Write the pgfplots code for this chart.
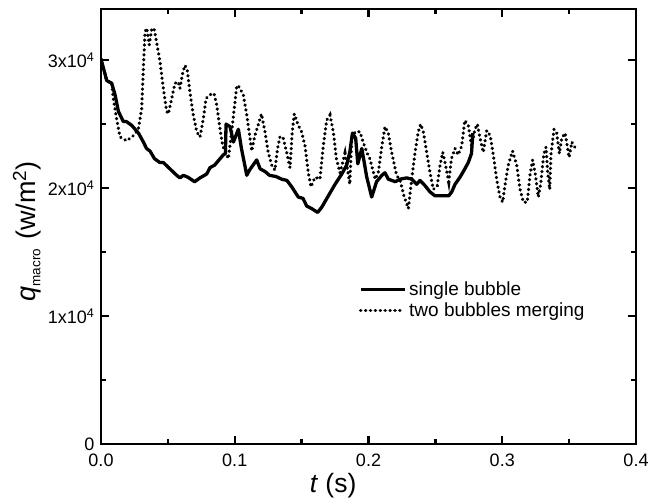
\documentclass[border=0pt]{standalone}
\usepackage{fontspec}
\setmainfont{Liberation Sans}
\usepackage{pgfplots}
\pgfplotsset{compat=1.18}
\begin{document}
\begin{tikzpicture}
\begin{axis}[name=ax,
  scale only axis, width=535pt, height=435pt,
  xmin=0, xmax=0.4, ymin=0, ymax=34000,
  axis line style={line width=2.8pt},
  xtick={0,0.1,0.2,0.3,0.4}, xticklabels={0.0,0.1,0.2,0.3,0.4},
  ytick={0,10000,20000,30000},
  yticklabels={0,1x10\textsuperscript{4},2x10\textsuperscript{4},3x10\textsuperscript{4}},
  minor xtick={0.05,0.15,0.25,0.35}, minor ytick={5000,15000,25000},
  tick align=inside, major tick length=8pt, minor tick length=5pt,
  every tick/.style={line width=2.4pt, black},
  tick label style={font=\fontsize{18}{21}\selectfont},
  xticklabel style={yshift=-6pt},
  yticklabel style={xshift=-3pt},
  scaled ticks=false,
  xlabel={\textit{t} (s)},
  xlabel style={font=\fontsize{26.5}{30}\selectfont, at={(axis cs:0.1735,0)}, anchor=north, inner sep=0pt, yshift=-29pt},
  ylabel={\textit{q}\raisebox{-5pt}{\fontsize{13.5}{15}\selectfont macro}\hspace{9pt}(w/m\textsuperscript{2})},
  ylabel style={font=\fontsize{27}{30}\selectfont, at={(axis description cs:-0.112,0.4885)}, anchor=south, inner sep=0pt},
  legend style={at={(axis description cs:0.4817,0.38)}, anchor=north west, draw=none, fill=none,
    font=\fontsize{19}{22}\selectfont, row sep=0pt, inner sep=0pt, nodes={inner sep=3pt}},
  legend cell align=left,
  legend image code/.code={\draw[#1] (0pt,0pt) -- (44pt,0pt);},
]
\addplot[black, line width=3.3pt, line join=round] coordinates {
(0,30100) (0.0043,28400) (0.008,28200) (0.0105,27300) (0.013,26000) (0.0167,25200)
(0.019,25200) (0.023,24900) (0.028,24300) (0.0317,23600) (0.034,23100) (0.0366,22900)
(0.040,22300) (0.044,22000) (0.0466,22000) (0.0516,21500) (0.0566,21000) (0.059,20800)
(0.0616,21000) (0.065,20850) (0.070,20500) (0.074,20800) (0.079,21100) (0.0815,21600)
(0.085,21800) (0.089,22300) (0.0915,22600) (0.093,22700) (0.0935,25000) (0.0965,24800)
(0.099,23600) (0.1027,24600) (0.105,23100) (0.109,21000) (0.111,21400) (0.1164,22200)
(0.119,21500) (0.1226,21300) (0.126,21000) (0.131,20900) (0.135,20700) (0.139,20600)
(0.1426,20100) (0.1475,19300) (0.151,19200) (0.1538,18600) (0.1575,18400) (0.162,18100)
(0.165,18500) (0.170,19400) (0.175,20300) (0.180,21100) (0.1837,21800) (0.186,22800)
(0.188,24300) (0.1904,23900) (0.192,21900) (0.195,23100) (0.1987,20850) (0.2024,19300)
(0.206,20500) (0.21,21000) (0.2123,21200) (0.2148,20700) (0.22,20500) (0.2236,20700)
(0.2286,20800) (0.2323,20700) (0.236,20300) (0.2385,20600) (0.2422,20200) (0.246,19700)
(0.2497,19400) (0.2547,19400) (0.26,19400) (0.2622,19700) (0.2647,20300) (0.2684,20850)
(0.272,21500) (0.2746,22000) (0.277,22700) (0.278,24300)
};
\addlegendentry{single bubble}
\addplot[black, line width=3.3pt, line cap=round, dash pattern=on 0.3pt off 4.6pt] coordinates {
(0,30100) (0.0043,28400) (0.008,28200) (0.0092,27000) (0.0117,25400) (0.0142,24000)
(0.0192,23700) (0.0242,24100) (0.0279,24600) (0.0304,26200) (0.0317,29400) (0.0329,32200)
(0.0342,32500) (0.0361,31200) (0.0379,32400) (0.0396,32500) (0.0416,31400) (0.0441,29900)
(0.0466,27800) (0.0491,26000) (0.0503,25800) (0.0529,27000) (0.0553,28200) (0.0578,28300)
(0.059,27800) (0.0611,29000) (0.0628,29600) (0.0645,29200) (0.0665,27500) (0.069,25700)
(0.0716,24400) (0.074,24000) (0.0765,25400) (0.0785,27000) (0.0815,27300) (0.0845,27400)
(0.0865,26500) (0.089,24600) (0.091,23300) (0.094,22600) (0.0952,22300) (0.0977,24400)
(0.1015,28000) (0.1027,28000) (0.1064,27300) (0.109,25700) (0.1114,23900) (0.1127,22900)
(0.115,24100) (0.1177,25000) (0.120,25800) (0.1226,24400) (0.125,22800) (0.1276,21800)
(0.130,21400) (0.132,23100) (0.1338,24000) (0.136,24000) (0.1388,22800) (0.1413,21600)
(0.143,24400) (0.1445,25800) (0.1475,24900) (0.150,24400) (0.1525,23300) (0.155,21200)
(0.157,20100) (0.160,20850) (0.1637,20700) (0.1662,23300) (0.1687,25300) (0.1712,25700)
(0.1737,24400) (0.176,22300) (0.1787,21200) (0.1824,22700) (0.185,21000) (0.186,20300)
(0.1875,23900) (0.19,24400) (0.1936,24400) (0.196,23600) (0.1987,22800) (0.201,22300)
(0.205,20700) (0.2073,21200) (0.21,23300) (0.2123,24800) (0.2148,24300) (0.2173,22800)
(0.221,21000) (0.2236,20600) (0.2265,19400) (0.2298,18400) (0.2323,20700) (0.2348,22800)
(0.2372,24400) (0.239,25000) (0.241,24400) (0.2435,22800) (0.246,21200) (0.2485,19900)
(0.2514,20200) (0.2535,21800) (0.2555,22800) (0.2572,22000) (0.26,20500) (0.262,22300)
(0.2647,23100) (0.267,22600) (0.2697,23300) (0.272,25300) (0.2746,24900) (0.277,23300)
(0.2796,24600) (0.2814,25000) (0.2834,23900) (0.2858,22800) (0.2884,24500) (0.291,24100)
(0.2933,22600) (0.2958,20700) (0.2983,19300) (0.3003,18900) (0.302,20200) (0.3045,21800)
(0.3077,22900) (0.3108,21800) (0.3133,19900) (0.3158,18900) (0.3187,18900) (0.3207,21000)
(0.3227,22200) (0.3245,21200) (0.327,19300) (0.3287,20300) (0.331,22600) (0.3327,23200)
(0.334,21200) (0.3355,19900) (0.3364,22600) (0.3387,24600) (0.3407,24300) (0.3427,22700)
(0.3445,23900) (0.347,24300) (0.350,22400) (0.352,23600) (0.3536,23300) (0.3557,23000)
};
\addlegendentry{two bubbles merging}
\end{axis}
\pgfresetboundingbox
\path ([xshift=-101pt,yshift=-55pt]ax.south west) rectangle ([xshift=13pt,yshift=9pt]ax.north east);
\end{tikzpicture}
\end{document}
